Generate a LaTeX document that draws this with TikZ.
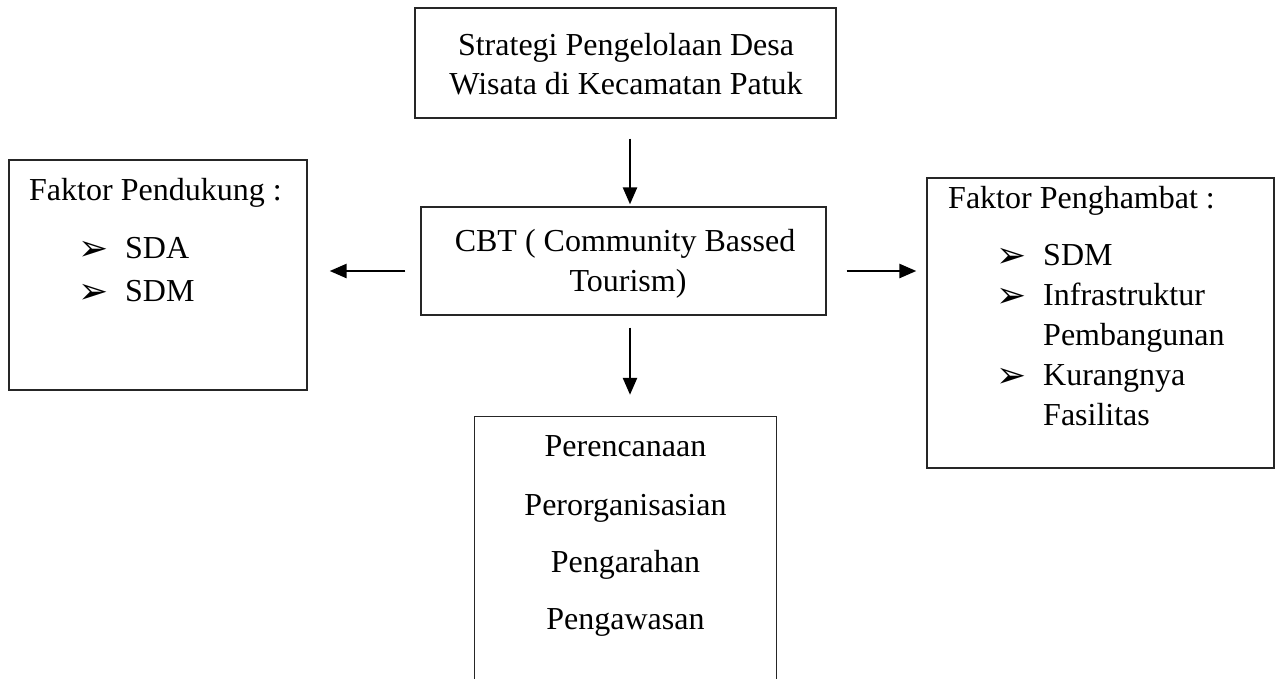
\documentclass[tikz,border=0pt]{standalone}
\usepackage{fontspec}
\setmainfont{Liberation Serif}
\newfontfamily\symfont{DejaVu Sans}
\usetikzlibrary{arrows.meta,calc}
\begin{document}
\begin{tikzpicture}[x=1pt,y=-1pt,
  box/.style={draw=black!85,line width=1.3pt,rectangle,inner sep=0pt},
  txt/.style={anchor=base,inner sep=0pt,font=\fontsize{32}{40}\selectfont},
  ltxt/.style={anchor=base west,inner sep=0pt,font=\fontsize{32}{40}\selectfont},
  bul/.style={anchor=base west,inner sep=0pt,font=\symfont\fontsize{36}{40}\selectfont},
  arr/.style={line width=2.5pt,-{Triangle[length=17pt,width=14pt]}}]
\useasboundingbox (0,0) rectangle (1277,678);
% boxes
\node[box,minimum width=421pt,minimum height=110pt] (top) at (625.5,63) {};
\node[box,minimum width=405pt,minimum height=108pt] (cbt) at (623.5,261) {};
\node[box,minimum width=298pt,minimum height=230pt] (left) at (158,275) {};
\node[box,minimum width=347pt,minimum height=290pt] (right) at (1100.5,323) {};
\node[inner sep=0pt,minimum width=301pt,minimum height=283pt] (plan) at (625.5,558.5) {};
\draw[draw=black!85,line width=1.3pt] (plan.south west) -- (plan.north west) -- (plan.north east) -- (plan.south east);
% texts
\node[txt] (t1) at (626,55) {Strategi Pengelolaan Desa};
\node[txt] (t2) at (626,94) {Wisata di Kecamatan Patuk};
\node[txt] (c1) at (625,251) {CBT ( Community Bassed};
\node[txt] (c2) at (628,291) {Tourism)};
\node[ltxt] (l0) at (29,200) {Faktor Pendukung :};
\node[bul] (lb1) at (78,260) {➢};
\node[ltxt] (l1) at (125,258) {SDA};
\node[bul] (lb2) at (78,303) {➢};
\node[ltxt] (l2) at (125,301) {SDM};
\node[ltxt] (r0) at (948,208) {Faktor Penghambat :};
\node[bul] (rb1) at (996,267) {➢};
\node[ltxt] (r1) at (1043,265) {SDM};
\node[bul] (rb2) at (996,307) {➢};
\node[ltxt] (r2) at (1043,305) {Infrastruktur};
\node[ltxt] (r3) at (1043,345) {Pembangunan};
\node[bul] (rb3) at (996,387) {➢};
\node[ltxt] (r4) at (1043,385) {Kurangnya};
\node[ltxt] (r5) at (1043,425) {Fasilitas};
\node[txt] (p1) at (625.5,456) {Perencanaan};
\node[txt] (p2) at (625.5,515) {Perorganisasian};
\node[txt] (p3) at (625.5,572) {Pengarahan};
\node[txt] (p4) at (625.5,629) {Pengawasan};
% connectors
\draw[arr] ($(top.south)+(4.5,20)$) -- ($(cbt.north)+(6.5,-2)$);
\draw[arr] ($(cbt.west)+(-15,10)$) -- ($(left.east)+(22,-4)$);
\draw[arr] ($(cbt.east)+(20,10)$) -- ($(right.west)+(-10,-52)$);
\draw[arr] ($(cbt.south)+(6.5,12)$) -- ($(plan.north)+(4.5,-22)$);
\end{tikzpicture}
\end{document}
